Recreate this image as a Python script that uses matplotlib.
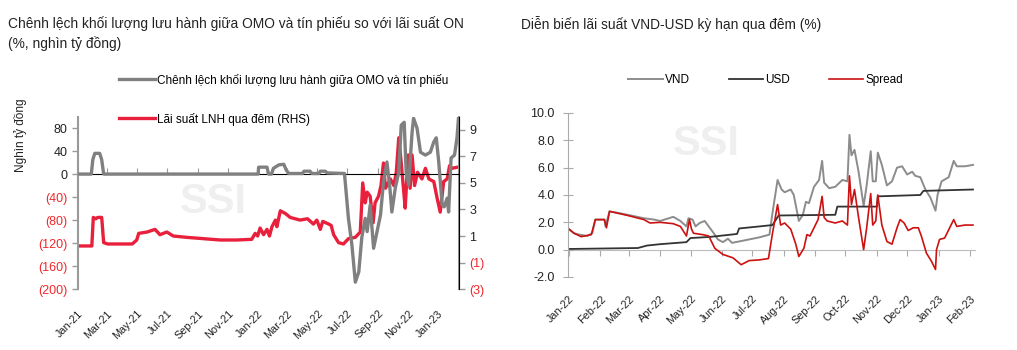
import numpy as np
import pandas as pd
import matplotlib
matplotlib.use("Agg")
import matplotlib.pyplot as plt
import matplotlib.dates as mdates
from matplotlib.ticker import FuncFormatter, NullFormatter

plt.rcParams['font.family'] = ['Liberation Sans', 'DejaVu Sans']

# ---------------- left chart data (days from 2021-01-01) ----------------
omo_days = [0, 27, 30, 34, 44, 48, 52, 365, 366, 383, 386, 392, 396, 407, 417, 422, 427, 455, 458,
            470, 474, 488, 491, 501, 505, 540, 548, 555, 562, 569, 575, 582, 586, 592, 599, 606,
            613, 619, 626, 632, 636, 643, 650, 655, 661, 665, 670, 677, 680, 687, 694, 704, 714,
            721, 726, 731, 738, 742, 748, 751, 756, 763, 768, 771]
omo_vals = [0, 0, 25, 36, 36, 25, 0, 0, 12, 12, 0, 0, 10, 16, 17, 7, 1, 1, 5,
            5, 1, 1, 5, 5, 2, 1, -77, -123, -188, -170, -111, -77, -100, -54, -129, -100,
            -71, -14, 21, -24, -66, -24, 3, 85, 90, 3, -19, 73, 97, 80, 38, 33, 38,
            56, 63, 21, -54, -57, -42, -66, 28, 33, 63, 97]

on_days = [0, 28, 31, 36, 40, 48, 52, 60, 110, 119, 123, 140, 156, 166, 180, 193, 220, 254, 288,
           322, 352, 359, 364, 369, 376, 383, 388, 393, 400, 403, 410, 420, 430, 450, 465, 477,
           484, 491, 496, 508, 513, 518, 528, 538, 548, 562, 572, 577, 582, 586, 592, 598, 602,
           609, 614, 619, 623, 633, 640, 645, 650, 655, 659, 663, 669, 673, 677, 682, 688, 697,
           704, 711, 721, 728, 734, 741, 748, 753, 758, 771]
on_vals = [0.25, 0.25, 2.4, 2.3, 2.4, 2.4, 0.5, 0.4, 0.4, 0.7, 1.2, 1.3, 1.5, 1.1, 1.3, 1.0, 0.9, 0.8, 0.7,
           0.7, 0.75, 1.2, 1.0, 1.6, 1.1, 1.5, 1.0, 1.7, 2.2, 1.7, 2.9, 2.7, 2.4, 2.2, 2.3, 1.9,
           2.2, 1.5, 2.1, 1.9, 1.8, 1.1, 0.5, 0.4, 0.8, 0.9, 1.3, 5.0, 3.5, 4.3, 4.0, 2.0, 3.5,
           4.0, 4.8, 6.5, 4.6, 5.3, 4.8, 5.8, 8.4, 6.5, 4.8, 3.1, 7.1, 4.6, 7.1, 4.8, 5.8, 5.3,
           6.1, 5.3, 5.1, 3.8, 2.8, 5.1, 5.3, 6.3, 6.1, 6.2]

# ---------------- right chart data (days from 2022-01-01) ----------------
vnd_days = [0, 5, 10, 18, 23, 26, 35, 36, 40, 48, 58, 74, 84, 90, 103, 110, 116, 118, 122, 125, 129,
            134, 138, 143, 147, 152, 157, 161, 168, 178, 188, 198, 201, 206, 210, 213, 219, 222,
            227, 231, 234, 237, 242, 247, 250, 252, 257, 263, 270, 275, 277, 279, 282, 286, 291,
            294, 298, 300, 303, 305, 309, 314, 319, 324, 329, 334, 339, 342, 347, 352, 357, 362,
            364, 368, 375, 380, 383, 391, 399]
vnd_vals = [1.5, 1.2, 1.1, 1.0, 1.2, 2.2, 2.2, 1.7, 2.8, 2.7, 2.55, 2.3, 2.2, 2.1, 2.4, 2.1, 1.7, 2.3, 2.2, 1.7, 1.95,
            2.1, 1.7, 1.2, 0.75, 0.55, 0.8, 0.5, 0.6, 0.75, 0.9, 1.1, 2.7, 5.1, 4.4, 4.2, 4.4, 4.0,
            2.1, 2.55, 3.5, 3.4, 4.6, 5.1, 6.5, 4.9, 4.5, 4.6, 5.1, 5.0, 8.4, 6.9, 7.3, 5.7, 3.2,
            4.7, 7.2, 5.0, 5.0, 7.1, 6.2, 4.7, 5.0, 6.0, 6.1, 5.5, 5.7, 5.4, 5.3, 4.4, 3.8, 2.85,
            4.0, 5.0, 5.3, 6.5, 6.1, 6.1, 6.2]

usd_days = [0, 68, 77, 90, 116, 120, 139, 160, 166, 168, 188, 201, 207, 263, 265, 304, 305, 347, 350, 399]
usd_vals = [0.05, 0.12, 0.3, 0.4, 0.55, 0.85, 0.93, 1.1, 1.15, 1.55, 1.7, 1.8, 2.5, 2.55, 3.15, 3.15, 3.9, 4.0, 4.3, 4.4]

spr_days = [0, 5, 12, 22, 26, 35, 37, 40, 58, 74, 80, 90, 103, 110, 116, 119, 121, 123, 132, 138,
            144, 152, 162, 170, 178, 188, 197, 201, 206, 209, 213, 219, 224, 227, 232, 235, 238,
            242, 246, 250, 252, 255, 263, 270, 275, 277, 279, 282, 286, 291, 294, 298, 300, 303,
            305, 309, 314, 319, 324, 327, 331, 335, 340, 345, 348, 353, 358, 362, 363, 366, 371,
            376, 380, 383, 391, 399]
spr_vals = [1.5, 1.2, 0.95, 1.1, 2.2, 2.2, 1.6, 2.8, 2.5, 2.2, 1.95, 2.0, 1.9, 1.7, 1.0, 2.2, 1.5, 1.2, 1.1, 1.0,
            0.1, -0.35, -0.6, -1.1, -0.8, -0.75, -0.65, 1.2, 3.3, 1.8, 1.95, 1.5, 0.4, -0.5, 0.1, 1.1, 1.0,
            1.6, 2.2, 3.9, 2.35, 2.1, 1.95, 2.1, 1.8, 5.4, 3.3, 4.4, 2.35, 0.0, 1.6, 4.1, 1.8, 2.1,
            4.0, 1.8, 0.6, 0.4, 1.6, 2.2, 1.95, 1.4, 1.6, 1.6, 1.0, -0.25, -0.85, -1.45, 0.0, 0.75, 0.85,
            1.6, 2.2, 1.7, 1.8, 1.8]

RED = '#e8203c'
NEG_RED = '#f0282d'
FS = 8.5


def to_dates(start, days):
    return pd.Timestamp(start) + pd.to_timedelta(days, unit='D')


fig = plt.figure(figsize=(10.17, 3.5), dpi=100)

# ======================= left chart =======================
ax = fig.add_axes([0.0767, 0.174, 0.3746, 0.493])
ax2 = ax.twinx()
ax.plot(to_dates('2021-01-01', omo_days), omo_vals, color='#808080', lw=2.4,
        label='Chênh lệch khối lượng lưu hành giữa OMO và tín phiếu', zorder=3)
ax2.plot(to_dates('2021-01-01', on_days), on_vals, color=RED, lw=2.4,
         label='Lãi suất LNH qua đêm (RHS)')
ax.set_zorder(ax2.get_zorder() + 1)
ax.patch.set_visible(False)

ax.set_ylim(-200, 100)
ax2.set_ylim(-3, 10)
ax.set_xlim(pd.Timestamp('2021-01-01'), pd.Timestamp('2023-02-12'))
ax.set_yticks(np.arange(-200, 81, 40))
ax2.set_yticks(np.arange(-3, 10, 2))
fmt = lambda v, p: f'({abs(int(v))})' if v < 0 else f'{int(v)}'
ax.yaxis.set_major_formatter(FuncFormatter(fmt))
ax2.yaxis.set_major_formatter(FuncFormatter(fmt))
for a in (ax, ax2):
    for s in ('top', 'bottom'):
        a.spines[s].set_visible(False)
    a.tick_params(axis='y', labelsize=FS + 0.5, color='#999999', length=4, width=1)
for lab in ax.get_yticklabels() + ax2.get_yticklabels():
    lab.set_color(NEG_RED if '(' in lab.get_text() else '#222222')
ax.spines['left'].set_color('#999999')
ax2.spines['left'].set_visible(False)
ax2.spines['right'].set_color('#999999')
ax.spines['left'].set_linewidth(1.5)
ax2.spines['right'].set_linewidth(1.5)

ax.xaxis.set_major_locator(mdates.MonthLocator(bymonth=[1, 3, 5, 7, 9, 11]))
ax.xaxis.set_major_formatter(mdates.DateFormatter('%b-%y'))
ax.tick_params(axis='x', length=0, labelsize=7.8, pad=14, labelcolor='#222222')
plt.setp(ax.get_xticklabels(), rotation=45, ha='right', rotation_mode='anchor')

sec = ax.secondary_xaxis(200 / 300)
sec.xaxis.set_major_locator(mdates.MonthLocator(bymonth=[1, 3, 5, 7, 9, 11]))
sec.xaxis.set_major_formatter(NullFormatter())
sec.tick_params(length=4, color='#999999')
sec.spines['bottom'].set_color('#aaaaaa')
sec.spines['bottom'].set_linewidth(0.8)

ax.set_ylabel('Nghìn tỷ đồng', fontsize=FS, color='#222222')
ax.yaxis.set_label_coords(-0.135, 0.89)
ax.text(0.355, 0.505, 'SSI', transform=ax.transAxes, fontsize=30, fontweight='bold',
        color='#efefef', ha='center', va='center', zorder=0)

h1, l1 = ax.get_legend_handles_labels()
h2, l2 = ax2.get_legend_handles_labels()
fig.legend(h1 + h2, l1 + l2, loc='upper left', bbox_to_anchor=(0.107, 0.82), frameon=False,
           fontsize=FS, handlelength=3.0, handletextpad=0.2, labelspacing=2.2)

fig.text(0.008, 0.955, 'Chênh lệch khối lượng lưu hành giữa OMO và tín phiếu so với lãi suất ON\n(%, nghìn tỷ đồng)',
         fontsize=9.9, color='#222222', va='top', ha='left', linespacing=1.5)

# ======================= right chart =======================
bx = fig.add_axes([0.5585, 0.2086, 0.4002, 0.4686])
bx.plot(to_dates('2022-01-01', vnd_days), vnd_vals, color='#8c8c8c', lw=1.4, label='VND')
bx.plot(to_dates('2022-01-01', usd_days), usd_vals, color='#333333', lw=1.3, label='USD')
bx.plot(to_dates('2022-01-01', spr_days), spr_vals, color='#cc1111', lw=1.2, label='Spread')
bx.set_ylim(-2, 10)
bx.set_xlim(pd.Timestamp('2021-12-31'), pd.Timestamp('2023-02-06'))
bx.set_yticks(np.arange(-2, 10.1, 2))
bx.yaxis.set_major_formatter(FuncFormatter(lambda v, p: f'{v:.1f}'))
for s in ('top', 'right', 'bottom'):
    bx.spines[s].set_visible(False)
bx.spines['left'].set_color('#aaaaaa')
bx.tick_params(axis='y', labelsize=FS + 0.5, direction='inout', length=7, color='#aaaaaa',
               labelcolor='#222222', pad=6)
bx.xaxis.set_major_locator(mdates.MonthLocator())
bx.xaxis.set_major_formatter(mdates.DateFormatter('%b-%y'))
bx.tick_params(axis='x', length=0, labelsize=7.8, pad=12, labelcolor='#222222')
plt.setp(bx.get_xticklabels(), rotation=45, ha='right', rotation_mode='anchor')

sec2 = bx.secondary_xaxis(2 / 12)
sec2.xaxis.set_major_locator(mdates.MonthLocator())
sec2.xaxis.set_major_formatter(NullFormatter())
sec2.tick_params(length=4, color='#aaaaaa')
sec2.spines['bottom'].set_color('#bbbbbb')

bx.text(0.34, 0.81, 'SSI', transform=bx.transAxes, fontsize=30, fontweight='bold',
        color='#efefef', ha='center', va='center', zorder=0)
bx.legend(loc='upper left', bbox_to_anchor=(0.122, 1.3), ncol=3, frameon=False, fontsize=FS,
          handlelength=2.9, handletextpad=0.2, columnspacing=3.3)

fig.text(0.512, 0.955, 'Diễn biến lãi suất VND-USD kỳ hạn qua đêm (%)', fontsize=9.9,
         color='#222222', va='top', ha='left')

fig.savefig('out.png', dpi=100)
